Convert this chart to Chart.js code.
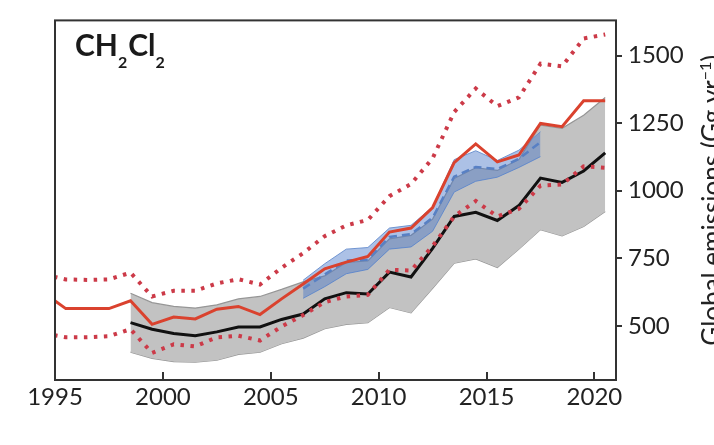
<!DOCTYPE html>
<html>
<head>
<meta charset="utf-8">
<script src="https://cdn.jsdelivr.net/npm/chart.js@4/dist/chart.umd.min.js"></script>
<style>
html,body{margin:0;padding:0;background:#fff;}
#wrap{width:714px;height:445px;}
</style>
</head>
<body>
<div id="wrap"><canvas id="c" width="714" height="445"></canvas></div>
<script>
// ---- data ----
const yearsAll = [1994.5,1995.5,1996.5,1997.5,1998.5,1999.5,2000.5,2001.5,2002.5,2003.5,2004.5,2005.5,2006.5,2007.5,2008.5,2009.5,2010.5,2011.5,2012.5,2013.5,2014.5,2015.5,2016.5,2017.5,2018.5,2019.5,2020.5];
const redSolid = [622,564,564,564,593,506,533,526,562,572,542,600,655,711,736,757,847,862,938,1104,1173,1107,1132,1249,1237,1333,1333];
const redUpper = [690,672,670,672,697,609,630,630,657,673,653,715,769,832,872,892,980,1025,1120,1291,1378,1313,1345,1470,1460,1563,1578];
const redLower = [472,458,458,462,488,400,432,424,458,464,446,498,540,588,609,615,708,705,795,905,962,905,933,1019,1023,1090,1085];

const yearsModel = [1998.5,1999.5,2000.5,2001.5,2002.5,2003.5,2004.5,2005.5,2006.5,2007.5,2008.5,2009.5,2010.5,2011.5,2012.5,2013.5,2014.5,2015.5,2016.5,2017.5,2018.5,2019.5,2020.5];
const blackLine = [512,488,472,464,478,496,496,524,544,600,623,618,699,681,787,905,920,890,945,1047,1031,1073,1140];
const greyUpper = [621,586,572,566,578,600,609,635,663,685,735,740,822,835,895,1045,1085,1075,1115,1243,1231,1279,1345];
const greyLower = [403,380,368,366,373,395,403,434,455,490,506,512,568,548,639,732,748,716,784,856,833,868,923];

const yearsBlue = [2006.5,2007.5,2008.5,2009.5,2010.5,2011.5,2012.5,2013.5,2014.5,2015.5,2016.5,2017.5];
const blueUpper = [669,730,784,790,862,872,940,1115,1148,1112,1150,1218];
const blueMean  = [638,690,742,745,829,840,900,1052,1088,1080,1118,1180];
const blueLower = [602,645,693,709,784,792,850,995,1035,1050,1086,1126];

const xTickValues = [1995,2000,2005,2010,2015,2020];
const xTickLabels = ['1995','2000','2005','2010','2015','2020'];
const yTickValues = [500,750,1000,1250,1500];
const yTickLabels = ['500','750','1000','1250','1500'];

const titleParts = [['CH', false], ['2', true], ['Cl', false], ['2', true]];
const yTitleParts = [['Global emissions (Gg yr', false], ['\u22121', true], [')', false]];

const pts = (xs, ys) => xs.map((x, i) => ({x: x, y: ys[i]}));

const RED = 'rgb(218,66,46)';
const RED_DOT = 'rgb(204,58,72)';
const FONT = 'Lato';

const framePlugin = {
  id: 'frame',
  afterDraw(chart) {
    const {ctx, chartArea: a, scales} = chart;
    const x = scales.x;
    ctx.save();
    ctx.strokeStyle = '#333';
    ctx.lineWidth = 2;
    ctx.strokeRect(a.left, a.top, a.right - a.left, a.bottom - a.top);
    xTickValues.forEach(v => {
      const px = Math.round(x.getPixelForValue(v));
      ctx.beginPath();
      ctx.moveTo(px, a.bottom);
      ctx.lineTo(px, a.bottom - 8);
      ctx.stroke();
    });
    // panel title
    ctx.fillStyle = '#1a1a1a';
    ctx.textBaseline = 'alphabetic';
    ctx.textAlign = 'left';
    let tx = 75;
    const ty = 56;
    titleParts.forEach(([t, sub]) => {
      ctx.font = sub ? 'bold 16px ' + FONT : 'bold 30px ' + FONT;
      ctx.fillText(t, tx, ty + (sub ? 12 : 0));
      tx += ctx.measureText(t).width + (sub ? 1 : 0);
    });
    // y-axis title, reading bottom to top (cut by the right edge as in the reference)
    ctx.save();
    ctx.translate(721, (a.top + a.bottom) / 2);
    ctx.rotate(-Math.PI / 2);
    let total = 0;
    yTitleParts.forEach(([t, sup]) => {
      ctx.font = (sup ? '16px ' : '26px ') + FONT;
      total += ctx.measureText(t).width;
    });
    let px = -total / 2;
    ctx.fillStyle = '#222';
    yTitleParts.forEach(([t, sup]) => {
      ctx.font = (sup ? '16px ' : '26px ') + FONT;
      ctx.fillText(t, px, sup ? -10 : 0);
      px += ctx.measureText(t).width;
    });
    ctx.restore();
    ctx.restore();
  }
};

new Chart(document.getElementById('c'), {
  type: 'line',
  data: {
    datasets: [
      {data: pts(yearsAll, redSolid), borderColor: RED, borderWidth: 3, order: 1, fill: false},
      {data: pts(yearsAll, redUpper), borderColor: RED_DOT, borderWidth: 4, borderDash: [3.5, 6.5], borderCapStyle: 'butt', order: 2, fill: false},
      {data: pts(yearsAll, redLower), borderColor: RED_DOT, borderWidth: 4, borderDash: [3.5, 6.5], borderCapStyle: 'butt', order: 2, fill: false},
      {data: pts(yearsModel, blackLine), borderColor: '#111', borderWidth: 3, order: 3, fill: false},
      {data: pts(yearsBlue, blueMean), borderColor: 'rgb(88,128,196)', borderWidth: 2.5, borderDash: [8, 5], order: 4, fill: false},
      {data: pts(yearsBlue, blueUpper), borderColor: 'rgba(100,140,205,0.9)', borderWidth: 1, backgroundColor: 'rgba(70,118,200,0.45)', fill: '+1', order: 5},
      {data: pts(yearsBlue, blueLower), borderColor: 'rgba(100,140,205,0.9)', borderWidth: 1, order: 5, fill: false},
      {data: pts(yearsModel, greyUpper), borderColor: 'rgb(150,150,150)', borderWidth: 1.2, backgroundColor: 'rgb(194,194,194)', fill: '+1', order: 6},
      {data: pts(yearsModel, greyLower), borderColor: 'rgb(150,150,150)', borderWidth: 1.2, order: 6, fill: false}
    ]
  },
  options: {
    responsive: false,
    animation: false,
    events: [],
    layout: {padding: {left: 55, right: 0, top: 13, bottom: 0}, autoPadding: false},
    elements: {point: {radius: 0}, line: {tension: 0}},
    plugins: {legend: {display: false}, tooltip: {enabled: false}},
    scales: {
      x: {
        type: 'linear', min: 1995, max: 2021,
        grid: {display: false, drawTicks: false},
        border: {display: false},
        afterBuildTicks: s => { s.ticks = xTickValues.map(v => ({value: v})); },
        afterFit: s => { s.height = 65; },
        ticks: {
          color: '#222', font: {family: FONT, size: 24}, padding: 3,
          maxRotation: 0, autoSkip: false,
          callback: (v, i) => xTickLabels[i]
        }
      },
      y: {
        type: 'linear', position: 'right', min: 300, max: 1630,
        grid: {drawOnChartArea: false, drawTicks: true, tickLength: 6, color: '#333', lineWidth: 2},
        border: {display: false},
        afterBuildTicks: s => { s.ticks = yTickValues.map(v => ({value: v})); },
        afterFit: s => { s.width = 98; },
        ticks: {
          color: '#222', font: {family: FONT, size: 24}, padding: 6,
          callback: (v, i) => yTickLabels[i]
        }
      }
    }
  },
  plugins: [framePlugin]
});
</script>
</body>
</html>
